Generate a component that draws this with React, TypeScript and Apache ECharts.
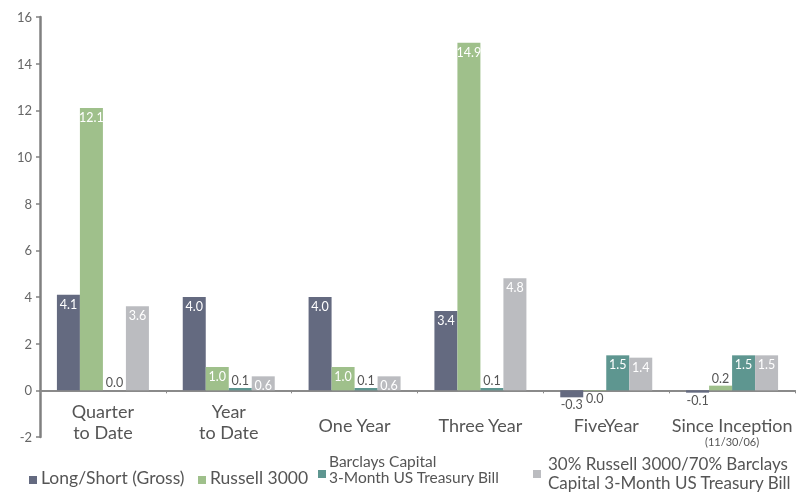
import React, { useEffect, useRef } from "react";
import * as echarts from "echarts";

const categories = ["Quarter\nto Date", "Year\nto Date", "One Year", "Three Year", "FiveYear", "Since Inception"];
const inceptionNote = "(11/30/06)";
const seriesNames = [
  "Long/Short (Gross)",
  "Russell 3000",
  "Barclays Capital\n3-Month US Treasury Bill",
  "30% Russell 3000/70% Barclays\nCapital 3-Month US Treasury Bill",
];
const longShort = [4.1, 4.0, 4.0, 3.4, -0.3, -0.1];
const russell = [12.1, 1.0, 1.0, 14.9, -0.02, 0.2];
const barclays = [0.0, 0.1, 0.1, 0.1, 1.5, 1.5];
const blend = [3.6, 0.6, 0.6, 4.8, 1.4, 1.5];
const colors = ["#646a80", "#9fc08b", "#5e9690", "#bbbcc0"];
const yTicks = { min: -2, max: 16, interval: 2 };

const FONT = "Lato";

function fmt(v: number) {
  if (Math.abs(v) < 0.05) return "0.0";
  return v.toFixed(1);
}

function buildData(values: number[]) {
  return values.map((v) => {
    if (v >= 0.5) {
      return { value: v, label: { position: "insideTop", distance: 3, color: "#ffffff" } };
    }
    if (v < 0) {
      return { value: v, label: { position: "bottom", distance: 1, color: "#555555" } };
    }
    return { value: v, label: { position: "top", distance: 1, color: "#555555" } };
  });
}

// legend layout (positions only)
const legendLayout = [
  { mx: 29, my: 476, tx: 41, ty: [477], fs: 17.5 },
  { mx: 198, my: 476, tx: 210, ty: [477], fs: 17.5 },
  { mx: 318, my: 470, tx: 329, ty: [460.5, 477], fs: 15.5 },
  { mx: 533, my: 470, tx: 548, ty: [463, 482], fs: 17 },
];

export default function App() {
  const ref = useRef<HTMLDivElement>(null);
  useEffect(() => {
    if (!ref.current) return;
    const chart = echarts.init(ref.current, null, { renderer: "svg" });
    const allValues = [longShort, russell, barclays, blend];

    const legendGraphics: any[] = [];
    seriesNames.forEach((n, i) => {
      const L = legendLayout[i];
      legendGraphics.push({
        type: "rect",
        shape: { x: L.mx, y: L.my, width: 8, height: 8 },
        style: { fill: colors[i] },
      });
      n.split("\n").forEach((line, j) => {
        legendGraphics.push({
          type: "text",
          x: L.tx,
          y: L.ty[j],
          style: {
            text: line,
            fill: "#555555",
            font: L.fs + "px " + FONT,
            textAlign: "left",
            textVerticalAlign: "middle",
          },
        });
      });
    });

    chart.setOption({
      animation: false,
      textStyle: { fontFamily: FONT },
      grid: { left: 40, right: 10, top: 17, bottom: 56, containLabel: false },
      graphic: legendGraphics,
      xAxis: {
        type: "category",
        data: categories,
        axisLine: { onZero: true, lineStyle: { color: "#8a8a8a", width: 2 } },
        axisTick: { show: true, length: 3, lineStyle: { color: "#8a8a8a" } },
        axisLabel: {
          margin: -36.5,
          interval: 0,
          color: "#555555",
          fontFamily: FONT,
          formatter: (val: string) => {
            if (val === "Since Inception") {
              return "{e| }\n{n|" + val + "}\n{s|" + inceptionNote + "}";
            }
            if (val.indexOf("\n") >= 0) {
              return val
                .split("\n")
                .map((p) => "{n|" + p + "}")
                .join("\n");
            }
            return "{e| }\n{n|" + val + "}";
          },
          rich: {
            n: { fontSize: 18, lineHeight: 21, color: "#555555", fontFamily: FONT },
            e: { fontSize: 1, lineHeight: 14 },
            s: { fontSize: 11, lineHeight: 11, color: "#555555", fontFamily: FONT },
          },
        },
      },
      yAxis: {
        type: "value",
        min: yTicks.min,
        max: yTicks.max,
        interval: yTicks.interval,
        splitLine: { show: false },
        axisLine: { show: true, lineStyle: { color: "#808080", width: 2.5 } },
        axisTick: { show: true, length: 4, lineStyle: { color: "#808080", width: 1.5 } },
        axisLabel: { color: "#666666", fontSize: 13, fontFamily: FONT, margin: 8 },
      },
      series: seriesNames.map((n, i) => ({
        name: n,
        type: "bar",
        barWidth: 23,
        barGap: "0%",
        itemStyle: { color: colors[i] },
        label: {
          show: true,
          fontSize: 12.5,
          fontFamily: FONT,
          formatter: (p: any) => fmt(p.value),
        },
        data: buildData(allValues[i]),
      })),
    });
    return () => chart.dispose();
  }, []);
  return <div ref={ref} style={{ position: "fixed", left: 0, top: 0, width: 805, height: 493 }} />;
}
